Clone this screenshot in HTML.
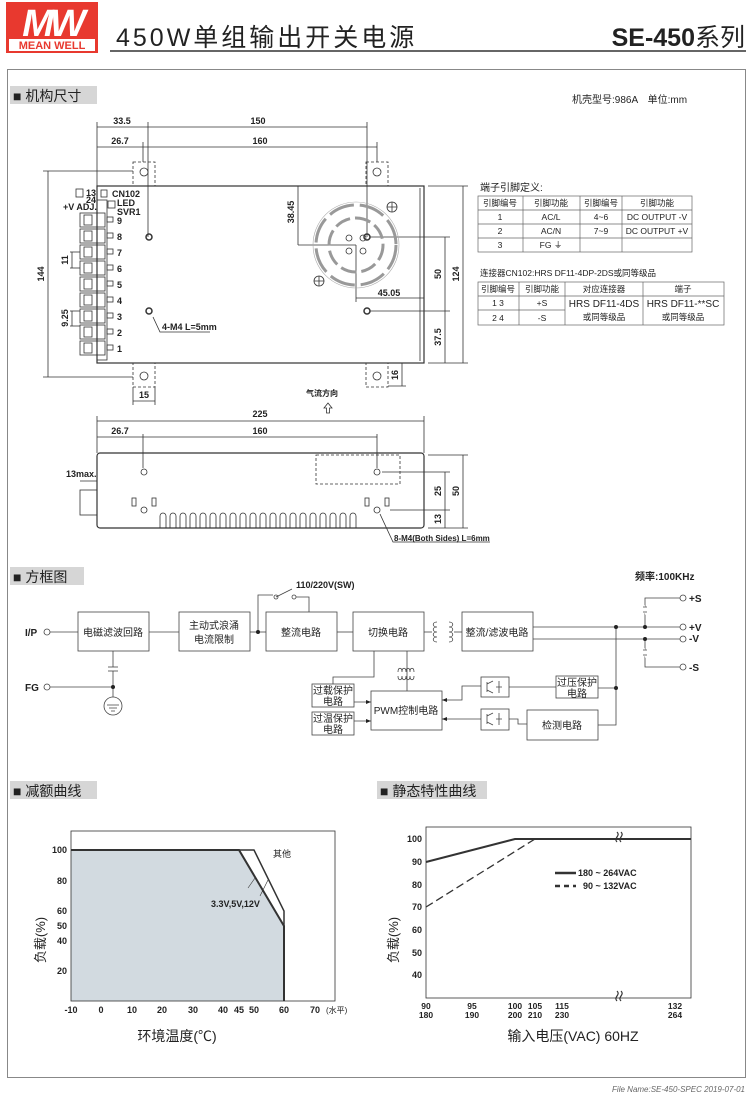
<!DOCTYPE html>
<html><head><meta charset="utf-8"><style>
html,body{margin:0;padding:0;background:#fff}
svg{display:block}
text{font-family:"Liberation Sans","Noto Sans CJK SC",sans-serif;fill:#222}
.b{font-weight:bold}
</style></head><body>
<svg width="750" height="1095" viewBox="0 0 750 1095" xmlns="http://www.w3.org/2000/svg">
<rect x="6" y="2" width="92" height="51" fill="#e8392f"/>
<text x="52" y="36" font-size="38" font-style="italic" font-weight="bold" text-anchor="middle" style="fill:#fff" letter-spacing="-4">MW</text>
<rect x="9" y="39" width="86" height="12" fill="#fff"/>
<text x="52" y="49" font-size="11" font-weight="bold" text-anchor="middle" style="fill:#e8392f">MEAN WELL</text>
<text x="116" y="46" font-size="25" letter-spacing="3">450W单组输出开关电源</text>
<text x="745" y="46" font-size="25" text-anchor="end"><tspan font-weight="bold">SE-450</tspan>系列</text>
<line x1="110" y1="51" x2="746" y2="51" stroke="#333" stroke-width="1.5"/>
<rect x="7.5" y="69.5" width="738" height="1008" fill="none" stroke="#888" stroke-width="1"/>
<rect x="10" y="86" width="87" height="18" fill="#d6d6d6"/>
<text x="13" y="101" font-size="14">■ 机构尺寸</text>
<rect x="10" y="567" width="74" height="18" fill="#d6d6d6"/>
<text x="13" y="582" font-size="14">■ 方框图</text>
<rect x="10" y="781" width="87" height="18" fill="#d6d6d6"/>
<text x="13" y="796" font-size="14">■ 减额曲线</text>
<rect x="377" y="781" width="110" height="18" fill="#d6d6d6"/>
<text x="380" y="796" font-size="14">■ 静态特性曲线</text>
<text x="572" y="103" font-size="10">机壳型号:986A　单位:mm</text>

<g stroke="#333" fill="none" stroke-width="0.8">
<rect x="97" y="186" width="327" height="177" stroke-width="1.2"/>
<line x1="420" y1="188" x2="420" y2="361"/>
<g stroke-dasharray="3,2">
<rect x="133" y="162" width="22" height="24"/><rect x="366" y="162" width="22" height="24"/>
<rect x="133" y="363" width="22" height="24"/><rect x="366" y="363" width="22" height="24"/>
</g>
<circle cx="144" cy="172" r="4"/><circle cx="377" cy="172" r="4"/><circle cx="144" cy="376" r="4"/><circle cx="377" cy="376" r="4"/>
<line x1="97" y1="127" x2="367" y2="127"/><line x1="97" y1="147" x2="377" y2="147"/>
<line x1="97" y1="122" x2="97" y2="186"/><line x1="148" y1="122" x2="148" y2="237"/><line x1="367" y1="122" x2="367" y2="237"/>
<line x1="143" y1="142" x2="143" y2="162"/><line x1="377" y1="142" x2="377" y2="162"/>
<line x1="48" y1="171" x2="48" y2="377"/><line x1="43" y1="171" x2="133" y2="171"/><line x1="43" y1="377" x2="133" y2="377"/>
<line x1="428" y1="186" x2="468" y2="186"/><line x1="428" y1="363" x2="468" y2="363"/>
<line x1="463" y1="186" x2="463" y2="363"/>
<line x1="370" y1="237" x2="450" y2="237"/><line x1="370" y1="311" x2="450" y2="311"/>
<line x1="445" y1="237" x2="445" y2="363"/>
<line x1="298" y1="186" x2="298" y2="245"/><line x1="298" y1="245" x2="356" y2="245"/>
<line x1="356" y1="245" x2="356" y2="302"/><line x1="356" y1="298" x2="424" y2="298"/>
<line x1="133" y1="387" x2="133" y2="405"/><line x1="155" y1="387" x2="155" y2="405"/><line x1="133" y1="401" x2="155" y2="401"/>
<line x1="388" y1="363" x2="406" y2="363"/><line x1="388" y1="386" x2="406" y2="386"/><line x1="402" y1="363" x2="402" y2="386"/>
<circle cx="149" cy="237" r="3" stroke-width="1.5"/><circle cx="149" cy="311" r="3" stroke-width="1.5"/>
<circle cx="367" cy="237" r="3" stroke-width="1.5"/><circle cx="367" cy="311" r="3" stroke-width="1.5"/>
<polyline points="153,317 160,332 210,332"/>
<circle cx="356" cy="245" r="40" stroke-width="3" stroke-dasharray="26,6" stroke="#999"/>
<circle cx="356" cy="245" r="27" stroke-width="3" stroke-dasharray="16,5" stroke="#999"/>
<circle cx="356" cy="245" r="43" stroke="#aaa" stroke-width="0.6"/>
<circle cx="349" cy="238" r="3"/><circle cx="363" cy="238" r="3"/><circle cx="349" cy="251" r="3"/><circle cx="363" cy="251" r="3"/>
<circle cx="392" cy="207" r="5"/><circle cx="319" cy="281" r="5"/>
<path d="M387 207h10M392 202v10M314 281h10M319 276v10"/>
<rect x="97" y="200" width="10" height="160"/>
<g id="tm">
<rect x="80" y="213" width="25" height="14"/><rect x="84" y="215" width="8" height="10"/><rect x="107" y="217" width="6" height="5"/>
</g>
<use href="#tm" y="16"/><use href="#tm" y="32"/><use href="#tm" y="48"/><use href="#tm" y="64"/><use href="#tm" y="80"/><use href="#tm" y="96"/><use href="#tm" y="112"/><use href="#tm" y="128"/>
<line x1="70" y1="252" x2="80" y2="252"/><line x1="70" y1="268" x2="80" y2="268"/><line x1="72" y1="252" x2="72" y2="268"/>
<line x1="70" y1="311" x2="80" y2="311"/><line x1="70" y1="326" x2="80" y2="326"/><line x1="72" y1="311" x2="72" y2="326"/>
<rect x="76" y="189" width="7" height="8"/><rect x="101" y="190" width="6" height="7"/><rect x="108" y="201" width="7" height="7"/>
<path d="M328 403l-4 5h2.5v5h3v-5h2.5z"/>
</g>
<g font-size="9" class="b">
<text x="122" y="124" text-anchor="middle">33.5</text><text x="258" y="124" text-anchor="middle">150</text>
<text x="120" y="144" text-anchor="middle">26.7</text><text x="260" y="144" text-anchor="middle">160</text>
<text x="44" y="274" transform="rotate(-90 44 274)" text-anchor="middle">144</text>
<text x="68" y="260" transform="rotate(-90 68 260)" text-anchor="middle">11</text>
<text x="68" y="318" transform="rotate(-90 68 318)" text-anchor="middle">9.25</text>
<text x="294" y="212" transform="rotate(-90 294 212)" text-anchor="middle">38.45</text>
<text x="441" y="274" transform="rotate(-90 441 274)" text-anchor="middle">50</text>
<text x="441" y="337" transform="rotate(-90 441 337)" text-anchor="middle">37.5</text>
<text x="459" y="274" transform="rotate(-90 459 274)" text-anchor="middle">124</text>
<text x="398" y="375" transform="rotate(-90 398 375)" text-anchor="middle">16</text>
<text x="389" y="296" text-anchor="middle">45.05</text>
<text x="144" y="398" text-anchor="middle">15</text>
<text x="162" y="330">4-M4 L=5mm</text>
<text x="86" y="196">13</text><text x="86" y="203">24</text>
<text x="63" y="210">+V ADJ.</text>
<text x="112" y="197">CN102</text><text x="117" y="206">LED</text><text x="117" y="215">SVR1</text>
<text x="117" y="224">9</text><text x="117" y="240">8</text><text x="117" y="256">7</text><text x="117" y="272">6</text><text x="117" y="288">5</text><text x="117" y="304">4</text><text x="117" y="320">3</text><text x="117" y="336">2</text><text x="117" y="352">1</text>
</g>
<text x="306" y="396" font-size="8" class="b">气流方向</text>

<g stroke="#333" fill="none" stroke-width="0.8">
<rect x="97" y="453" width="327" height="75" rx="3" stroke-width="1.2"/>
<line x1="97" y1="421" x2="424" y2="421"/><line x1="97" y1="437" x2="377" y2="437"/>
<line x1="97" y1="416" x2="97" y2="453"/><line x1="424" y1="416" x2="424" y2="453"/>
<line x1="143" y1="434" x2="143" y2="468"/><line x1="377" y1="434" x2="377" y2="468"/>
<rect x="316" y="455" width="84" height="29" stroke-dasharray="3,2"/>
<rect x="80" y="490" width="17" height="25"/>
<line x1="80" y1="481" x2="97" y2="481"/>
<circle cx="144" cy="472" r="3"/><circle cx="377" cy="472" r="3"/><circle cx="144" cy="510" r="3"/><circle cx="377" cy="510" r="3"/>
<rect x="132" y="498" width="4" height="8"/><rect x="152" y="498" width="4" height="8"/>
<rect x="365" y="498" width="4" height="8"/><rect x="385" y="498" width="4" height="8"/>
<path d="M160 528v-12a3 3 0 0 1 6 0v12M170 528v-12a3 3 0 0 1 6 0v12M180 528v-12a3 3 0 0 1 6 0v12M190 528v-12a3 3 0 0 1 6 0v12M200 528v-12a3 3 0 0 1 6 0v12M210 528v-12a3 3 0 0 1 6 0v12M220 528v-12a3 3 0 0 1 6 0v12M230 528v-12a3 3 0 0 1 6 0v12M240 528v-12a3 3 0 0 1 6 0v12M250 528v-12a3 3 0 0 1 6 0v12M260 528v-12a3 3 0 0 1 6 0v12M270 528v-12a3 3 0 0 1 6 0v12M280 528v-12a3 3 0 0 1 6 0v12M290 528v-12a3 3 0 0 1 6 0v12M300 528v-12a3 3 0 0 1 6 0v12M310 528v-12a3 3 0 0 1 6 0v12M320 528v-12a3 3 0 0 1 6 0v12M330 528v-12a3 3 0 0 1 6 0v12M340 528v-12a3 3 0 0 1 6 0v12M350 528v-12a3 3 0 0 1 6 0v12"/>
<line x1="428" y1="455" x2="468" y2="455"/><line x1="428" y1="528" x2="468" y2="528"/><line x1="463" y1="455" x2="463" y2="528"/>
<line x1="382" y1="472" x2="450" y2="472"/><line x1="390" y1="510" x2="450" y2="510"/><line x1="445" y1="472" x2="445" y2="528"/>
<polyline points="380,514 393,542 490,542"/>
</g>
<g font-size="9" class="b">
<text x="260" y="417" text-anchor="middle">225</text>
<text x="120" y="434" text-anchor="middle">26.7</text><text x="260" y="434" text-anchor="middle">160</text>
<text x="66" y="477">13max.</text>
<text x="441" y="491" transform="rotate(-90 441 491)" text-anchor="middle">25</text>
<text x="441" y="519" transform="rotate(-90 441 519)" text-anchor="middle">13</text>
<text x="459" y="491" transform="rotate(-90 459 491)" text-anchor="middle">50</text>
<text x="394" y="541" font-size="8">8-M4(Both Sides) L=6mm</text>
</g>

<text x="480" y="191" font-size="10">端子引脚定义:</text>
<g stroke="#666" stroke-width="0.7" fill="none">
<rect x="478" y="196" width="214" height="56"/>
<line x1="478" y1="210" x2="692" y2="210"/><line x1="478" y1="224" x2="692" y2="224"/><line x1="478" y1="238" x2="692" y2="238"/>
<line x1="523" y1="196" x2="523" y2="252"/><line x1="580" y1="196" x2="580" y2="252"/><line x1="622" y1="196" x2="622" y2="252"/>
<rect x="478" y="282" width="246" height="43"/>
<line x1="478" y1="296" x2="724" y2="296"/><line x1="478" y1="310" x2="565" y2="310"/>
<line x1="519" y1="282" x2="519" y2="325"/><line x1="565" y1="282" x2="565" y2="325"/><line x1="643" y1="282" x2="643" y2="325"/>
</g>
<g font-size="8.5" text-anchor="middle">
<text x="500" y="206">引脚编号</text><text x="551" y="206">引脚功能</text><text x="601" y="206">引脚编号</text><text x="657" y="206">引脚功能</text>
<text x="500" y="220">1</text><text x="551" y="220">AC/L</text><text x="601" y="220">4~6</text><text x="657" y="220">DC OUTPUT -V</text>
<text x="500" y="234">2</text><text x="551" y="234">AC/N</text><text x="601" y="234">7~9</text><text x="657" y="234">DC OUTPUT +V</text>
<text x="500" y="248">3</text><text x="551" y="248">FG ⏚</text>
<text x="498" y="292">引脚编号</text><text x="542" y="292">引脚功能</text><text x="604" y="292">对应连接器</text><text x="683" y="292">端子</text>
<text x="498" y="306">1  3</text><text x="542" y="306">+S</text><text x="498" y="321">2  4</text><text x="542" y="321">-S</text>
<text x="604" y="307" font-size="10">HRS DF11-4DS</text><text x="604" y="320">或同等级品</text>
<text x="683" y="307" font-size="10">HRS DF11-**SC</text><text x="683" y="320">或同等级品</text>
</g>
<text x="480" y="276" font-size="8.5">连接器CN102:HRS DF11-4DP-2DS或同等级品</text>

<text x="635" y="580" font-size="10" class="b">频率:100KHz</text>
<g stroke="#444" fill="none" stroke-width="0.8">
<rect x="78" y="612" width="71" height="39"/><rect x="179" y="612" width="71" height="39"/><rect x="266" y="612" width="71" height="39"/><rect x="353" y="612" width="71" height="39"/><rect x="462" y="612" width="71" height="39"/>
<rect x="312" y="684" width="42" height="23"/><rect x="312" y="712" width="42" height="23"/>
<rect x="371" y="691" width="71" height="39"/>
<rect x="556" y="676" width="42" height="22"/><rect x="527" y="710" width="71" height="30"/>
<rect x="481" y="677" width="28" height="20"/><rect x="481" y="709" width="28" height="21"/>
<circle cx="47" cy="632" r="3"/><circle cx="47" cy="687" r="3"/>
<line x1="50" y1="632" x2="78" y2="632"/><line x1="149" y1="632" x2="179" y2="632"/><line x1="250" y1="632" x2="266" y2="632"/><line x1="337" y1="632" x2="353" y2="632"/>
<line x1="50" y1="687" x2="113" y2="687"/>
<line x1="113" y1="651" x2="113" y2="667"/><line x1="108" y1="667" x2="118" y2="667"/><line x1="108" y1="671" x2="118" y2="671"/><line x1="113" y1="671" x2="113" y2="697"/>
<circle cx="113" cy="706" r="9"/><path d="M107 705h12M109 708h8M111 711h4"/>
<polyline points="258,632 258,595 273,595"/><path d="M276 597l16 -8"/><circle cx="276" cy="597" r="2"/><circle cx="294" cy="597" r="2"/>
<polyline points="296,597 309,597 309,612"/>
<path d="M437 622c-5 0-5 5 0 5c-5 0-5 5 0 5c-5 0-5 5 0 5c-5 0-5 5 0 5M449 622c5 0 5 5 0 5c5 0 5 5 0 5c5 0 5 5 0 5c5 0 5 5 0 5"/>
<line x1="424" y1="632" x2="432" y2="632"/><line x1="454" y1="632" x2="462" y2="632"/>
<line x1="533" y1="627" x2="680" y2="627"/><line x1="533" y1="639" x2="680" y2="639"/>
<circle cx="683" cy="598" r="3"/><circle cx="683" cy="627" r="3"/><circle cx="683" cy="639" r="3"/><circle cx="683" cy="667" r="3"/>
<polyline points="680,598 645,598 645,627"/><polyline points="680,667 645,667 645,639"/>
<path d="M645 606c-3 1 3 3 0 4c-3 1 3 3 0 4M645 649c-3 1 3 3 0 4c-3 1 3 3 0 4" stroke="#fff" stroke-width="2"/>
<path d="M643 607h4M643 612h4M643 650h4M643 655h4"/>
<polyline points="616,627 616,725 598,725"/><line x1="598" y1="688" x2="616" y2="688"/>
<polyline points="374,651 374,677 333,677 333,684"/>
<line x1="407" y1="651" x2="407" y2="691"/>
<path d="M398 672c0-5 4-5 4 0c0-5 4-5 4 0c0-5 4-5 4 0c0-5 4-5 4 0M398 676c0 5 4 5 4 0c0 5 4 5 4 0c0 5 4 5 4 0c0 5 4 5 4 0"/>
<line x1="354" y1="702" x2="371" y2="702"/><line x1="354" y1="721" x2="371" y2="721"/>
<polyline points="481,686 462,686 462,700 442,700"/><polyline points="481,719 442,719"/>
<line x1="509" y1="687" x2="556" y2="687"/><polyline points="509,719 518,719 518,724 527,724"/>
<path d="M487 682v10M487 684l6-3M487 690l6 3M499 681v12M496 687h6"/>
<path d="M487 714v10M487 716l6-3M487 722l6 3M499 713v12M496 719h6"/>
</g>
<g fill="#222"><circle cx="113" cy="687" r="2"/><circle cx="258" cy="632" r="2"/><circle cx="616" cy="627" r="2"/><circle cx="616" cy="688" r="2"/><circle cx="645" cy="627" r="2"/><circle cx="645" cy="639" r="2"/>
<path d="M371 702l-5-2v4zM371 721l-5-2v4zM442 700l5-2v4zM442 719l5-2v4z"/></g>
<g font-size="10" class="b">
<text x="25" y="636">I/P</text><text x="25" y="691">FG</text>
<text x="689" y="602">+S</text><text x="689" y="631">+V</text><text x="689" y="642">-V</text><text x="689" y="671">-S</text>
<text x="296" y="588" font-size="9">110/220V(SW)</text>
</g>
<g font-size="10" text-anchor="middle">
<text x="113" y="636">电磁滤波回路</text>
<text x="214" y="629">主动式浪涌</text><text x="214" y="643">电流限制</text>
<text x="301" y="636">整流电路</text><text x="388" y="636">切换电路</text><text x="497" y="636">整流/滤波电路</text>
<text x="333" y="694">过载保护</text><text x="333" y="705">电路</text>
<text x="333" y="722">过温保护</text><text x="333" y="733">电路</text>
<text x="406" y="714">PWM控制电路</text>
<text x="577" y="686">过压保护</text><text x="577" y="697">电路</text>
<text x="562" y="729">检测电路</text>
</g>

<polygon points="71,850 239,850 284,926 284,1001 71,1001" fill="#d2dae0"/>
<g stroke="#333" fill="none">
<rect x="71" y="831" width="264" height="170" stroke-width="0.8"/>
<polyline points="71,850 239,850 284,926 284,1001" stroke-width="2"/>
<polyline points="239,850 254,850 284,911 284,1001" stroke-width="1.5"/>
<line x1="260" y1="896" x2="268" y2="880" stroke-width="0.6"/><line x1="248" y1="888" x2="255" y2="878" stroke-width="0.6"/>
</g>
<g font-size="9" class="b" text-anchor="end">
<text x="67" y="853">100</text><text x="67" y="884">80</text><text x="67" y="914">60</text><text x="67" y="929">50</text><text x="67" y="944">40</text><text x="67" y="974">20</text>
</g>
<g font-size="9" class="b" text-anchor="middle">
<text x="71" y="1013">-10</text><text x="101" y="1013">0</text><text x="132" y="1013">10</text><text x="162" y="1013">20</text><text x="193" y="1013">30</text><text x="223" y="1013">40</text><text x="239" y="1013">45</text><text x="254" y="1013">50</text><text x="284" y="1013">60</text><text x="315" y="1013">70</text>
</g>
<text x="326" y="1013" font-size="8">(水平)</text>
<text x="273" y="857" font-size="9">其他</text>
<text x="211" y="907" font-size="9" class="b">3.3V,5V,12V</text>
<text x="45" y="940" font-size="13" transform="rotate(-90 45 940)" text-anchor="middle">负载(%)</text>
<text x="177" y="1041" font-size="14" text-anchor="middle">环境温度(℃)</text>

<g stroke="#333" fill="none">
<rect x="426" y="827" width="265" height="171" stroke-width="0.8"/>
<polyline points="426,862 515,839 691,839" stroke-width="2"/>
<polyline points="426,907 535,839" stroke-width="1.3" stroke-dasharray="8,4"/>
<line x1="555" y1="873" x2="576" y2="873" stroke-width="2.5"/>
<line x1="555" y1="886" x2="576" y2="886" stroke-width="2.5" stroke-dasharray="5,4"/>
<path d="M617 832c4 4-4 6 0 10M621 832c4 4-4 6 0 10M617 991c4 4-4 6 0 10M621 991c4 4-4 6 0 10" stroke-width="1.2"/>
</g>
<g font-size="9" class="b" text-anchor="end">
<text x="422" y="842">100</text><text x="422" y="865">90</text><text x="422" y="888">80</text><text x="422" y="910">70</text><text x="422" y="933">60</text><text x="422" y="956">50</text><text x="422" y="978">40</text>
</g>
<g font-size="8.5" class="b" text-anchor="middle">
<text x="426" y="1009">90</text><text x="426" y="1018">180</text>
<text x="472" y="1009">95</text><text x="472" y="1018">190</text>
<text x="515" y="1009">100</text><text x="515" y="1018">200</text>
<text x="535" y="1009">105</text><text x="535" y="1018">210</text>
<text x="562" y="1009">115</text><text x="562" y="1018">230</text>
<text x="675" y="1009">132</text><text x="675" y="1018">264</text>
</g>
<text x="578" y="876" font-size="9" class="b">180 ~ 264VAC</text>
<text x="583" y="889" font-size="9" class="b">90 ~ 132VAC</text>
<text x="398" y="940" font-size="13" transform="rotate(-90 398 940)" text-anchor="middle">负载(%)</text>
<text x="573" y="1041" font-size="14" text-anchor="middle">输入电压(VAC) 60HZ</text>

<text x="745" y="1092" font-size="8" font-style="italic" text-anchor="end" style="fill:#666">File Name:SE-450-SPEC  2019-07-01</text>
</svg>
</body></html>
